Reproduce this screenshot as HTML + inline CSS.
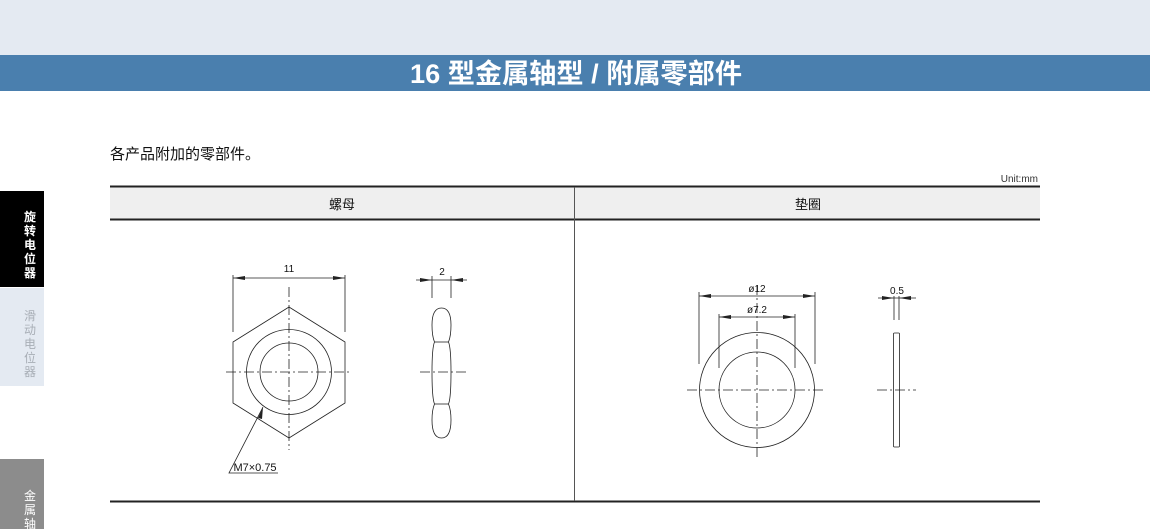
<!DOCTYPE html>
<html><head><meta charset="utf-8"><style>
body{margin:0;width:1150px;height:529px;overflow:hidden;background:#fff;font-family:"Liberation Sans","Noto Sans CJK SC",sans-serif;}
</style></head><body>
<svg width="1150" height="529" xmlns="http://www.w3.org/2000/svg" style="position:absolute;left:0;top:0;font-family:'Liberation Sans','Noto Sans CJK SC',sans-serif">
<rect x="0" y="0" width="1150" height="55" fill="#e4eaf2"/>
<rect x="0" y="55" width="1150" height="36" fill="#4a7fae"/>
<text x="576" y="83" fill="#fff" font-size="27" font-weight="bold" text-anchor="middle" textLength="332" lengthAdjust="spacingAndGlyphs">16 型金属轴型 / 附属零部件</text>
<text x="110" y="159" font-size="15" fill="#111">各产品附加的零部件。</text>
<text x="1038" y="182" font-size="10" fill="#333" text-anchor="end">Unit:mm</text>
<rect x="0" y="191" width="44" height="96" fill="#000"/>
<text font-size="12" fill="#fff" font-weight="bold" text-anchor="middle"><tspan x="30" y="221">旋</tspan><tspan x="30" y="235">转</tspan><tspan x="30" y="249">电</tspan><tspan x="30" y="263">位</tspan><tspan x="30" y="277">器</tspan></text>
<rect x="0" y="288" width="44" height="98" fill="#e4eaf2"/>
<text font-size="12" fill="#a8aeb6" text-anchor="middle"><tspan x="30" y="320">滑</tspan><tspan x="30" y="334">动</tspan><tspan x="30" y="348">电</tspan><tspan x="30" y="362">位</tspan><tspan x="30" y="376">器</tspan></text>
<rect x="0" y="459" width="44" height="70" fill="#8c8c8c"/>
<text font-size="12" fill="#fff" text-anchor="middle"><tspan x="30" y="500">金</tspan><tspan x="30" y="514">属</tspan><tspan x="30" y="528">轴</tspan></text>
<rect x="110" y="187" width="930" height="32" fill="#efefef"/>
<line x1="110" y1="186.5" x2="1040" y2="186.5" stroke="#222" stroke-width="2"/>
<line x1="110" y1="219.5" x2="1040" y2="219.5" stroke="#222" stroke-width="2"/>
<line x1="110" y1="501.5" x2="1040" y2="501.5" stroke="#222" stroke-width="2"/>
<line x1="574.5" y1="187" x2="574.5" y2="501" stroke="#555" stroke-width="1"/>
<text x="342" y="209" font-size="13" text-anchor="middle" fill="#111">螺母</text>
<text x="808" y="209" font-size="13" text-anchor="middle" fill="#111">垫圈</text>
<g fill="none" stroke="#222" stroke-width="0.8">
<polygon points="289,307 345,342 345,403 289,438 233,403 233,342"/>
<circle cx="289" cy="372" r="42.5"/>
<circle cx="289" cy="372" r="29"/>
<line x1="289" y1="287" x2="289" y2="450" stroke-dasharray="10,3,2,3"/>
<line x1="226" y1="372" x2="352" y2="372" stroke-dasharray="10,3,2,3"/>
<line x1="233" y1="275" x2="233" y2="332"/><line x1="345" y1="275" x2="345" y2="332"/>
<line x1="233" y1="278" x2="345" y2="278"/>
<polyline points="263,407 229,473 278,473"/>
<path d="M434.5,342 Q432,336 432,325 Q432,308 441.5,308 Q451,308 451,325 Q451,336 448.5,342 Q451,348 451,372 Q451,398 448.5,404 Q451,410 451,420 Q451,438 441.5,438 Q432,438 432,420 Q432,410 434.5,404 Q432,398 432,372 Q432,348 434.5,342 Z"/>
<line x1="434.5" y1="342" x2="448.5" y2="342"/><line x1="434.5" y1="404" x2="448.5" y2="404"/>
<line x1="432" y1="276" x2="432" y2="298"/><line x1="451" y1="276" x2="451" y2="298"/>
<line x1="416" y1="280" x2="467" y2="280"/>
<line x1="420" y1="372" x2="466" y2="372" stroke-dasharray="10,3,2,3"/>
<circle cx="757" cy="390" r="57.5"/>
<circle cx="757" cy="390" r="38"/>
<line x1="757" y1="285" x2="757" y2="458" stroke-dasharray="10,3,2,3"/>
<line x1="687" y1="390" x2="826" y2="390" stroke-dasharray="10,3,2,3"/>
<line x1="699" y1="292" x2="699" y2="364"/><line x1="815" y1="292" x2="815" y2="364"/>
<line x1="699" y1="296" x2="815" y2="296"/>
<line x1="719" y1="314" x2="719" y2="368"/><line x1="795" y1="314" x2="795" y2="368"/>
<line x1="719" y1="317" x2="795" y2="317"/>
<rect x="893.5" y="333" width="6" height="114" rx="1"/>
<line x1="894" y1="296" x2="894" y2="320"/><line x1="899" y1="296" x2="899" y2="320"/>
<line x1="878" y1="298" x2="916" y2="298"/>
<line x1="877" y1="390" x2="916" y2="390" stroke-dasharray="10,3,2,3"/>
</g>
<g fill="#222">
<polygon points="233,278 245,276 245,280"/><polygon points="345,278 333,276 333,280"/>
<polygon points="432,280 420,278 420,282"/><polygon points="451,280 463,278 463,282"/>
<polygon points="263,407 258,418 262,419"/>
<polygon points="699,296 711,294 711,298"/><polygon points="815,296 803,294 803,298"/>
<polygon points="719,317 731,315 731,319"/><polygon points="795,317 783,315 783,319"/>
<polygon points="894,298 882,296 882,300"/><polygon points="899,298 911,296 911,300"/>
</g>
<g font-size="10" fill="#111" text-anchor="middle">
<text x="289" y="272">11</text>
<text x="442" y="275">2</text>
<text x="255" y="471" font-size="11">M7×0.75</text>
<text x="757" y="292">ø12</text>
<text x="757" y="313">ø7.2</text>
<text x="897" y="294">0.5</text>
</g>
</svg>
</body></html>
